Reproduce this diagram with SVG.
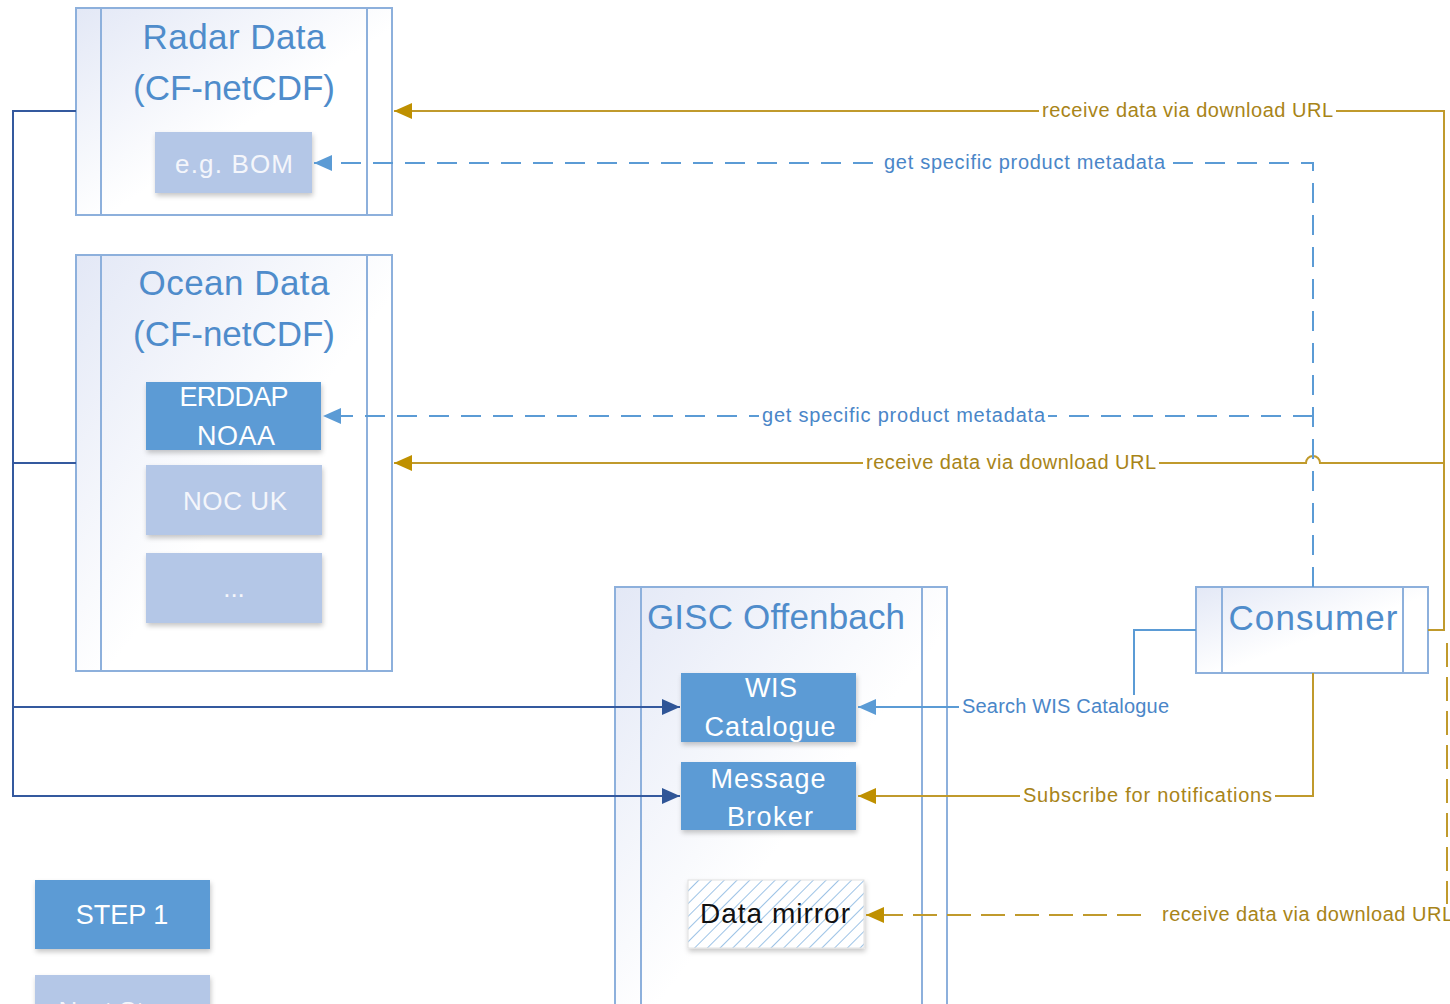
<svg xmlns="http://www.w3.org/2000/svg" width="1450" height="1004" viewBox="0 0 1450 1004">
<defs>
<style>
.cont{stroke:#8DB0DC;stroke-width:2;fill:url(#cg)}
.inl{stroke:#8DB0DC;stroke-width:2;fill:none}
.title{font-family:"Liberation Sans",Arial,sans-serif;font-size:35px;fill:#4F8CCB}
.box{filter:url(#sh)}
.dark{fill:#5B9BD5}
.light{fill:#B4C7E7}
.btxt{font-family:"Liberation Sans",Arial,sans-serif;font-size:27px;fill:#FFFFFF}
.ltxt{font-family:"Liberation Sans",Arial,sans-serif;font-size:26px;fill:#F4F6FB}
.lbl{font-family:"Liberation Sans",Arial,sans-serif;font-size:20px}
.gold{stroke:#C09A2C;stroke-width:2;fill:none}
.blue{stroke:#5B9BD5;stroke-width:2;fill:none}
.navy{stroke:#34599E;stroke-width:2;fill:none}
.gtxt{fill:#A88418}
.btx{fill:#4A86C8}
</style>
<linearGradient id="cg" x1="0" y1="0" x2="1" y2="1">
<stop offset="0" stop-color="#E3E8F6"/>
<stop offset="0.55" stop-color="#FFFFFF"/>
<stop offset="1" stop-color="#FFFFFF"/>
</linearGradient>
<filter id="sh" x="-10%" y="-10%" width="130%" height="140%">
<feDropShadow dx="1" dy="3" stdDeviation="2.5" flood-color="#000" flood-opacity="0.22"/>
</filter>
<pattern id="hatch" patternUnits="userSpaceOnUse" width="9" height="9" patternTransform="rotate(45)">
<rect width="9" height="9" fill="#FFFFFF"/>
<line x1="0" y1="0" x2="0" y2="9" stroke="#9DC3E6" stroke-width="2"/>
</pattern>
<marker id="ag" markerUnits="userSpaceOnUse" markerWidth="20" markerHeight="18" refX="18" refY="8" orient="auto"><path d="M0,0 L18,8 L0,16 z" fill="#BF9000"/></marker>
<marker id="ab" markerUnits="userSpaceOnUse" markerWidth="20" markerHeight="18" refX="18" refY="8" orient="auto"><path d="M0,0 L18,8 L0,16 z" fill="#5B9BD5"/></marker>
<marker id="an" markerUnits="userSpaceOnUse" markerWidth="20" markerHeight="18" refX="18" refY="8" orient="auto"><path d="M0,0 L18,8 L0,16 z" fill="#2F5597"/></marker>
</defs>
<rect width="1450" height="1004" fill="#FFFFFF"/>

<g id="radar">
<rect class="cont" x="76" y="8" width="316" height="207"/>
<path class="inl" d="M101,8 V215 M367,8 V215"/>
<text class="title" x="234" y="49" text-anchor="middle" textLength="183">Radar Data</text>
<text class="title" x="234" y="100" text-anchor="middle" textLength="202">(CF-netCDF)</text>
</g>
<g id="bom">
<rect class="box light" x="155" y="132" width="157" height="61"/>
<text class="ltxt" x="234" y="173" text-anchor="middle" textLength="118">e.g. BOM</text>
</g>

<g id="ocean">
<rect class="cont" x="76" y="255" width="316" height="416"/>
<path class="inl" d="M101,255 V671 M367,255 V671"/>
<text class="title" x="234" y="295" text-anchor="middle" textLength="191">Ocean Data</text>
<text class="title" x="234" y="346" text-anchor="middle" textLength="202">(CF-netCDF)</text>
</g>
<g id="erddap">
<rect class="box dark" x="146" y="382" width="175" height="68"/>
<text class="btxt" x="234" y="406" text-anchor="middle" textLength="109" font-size="26">ERDDAP</text>
<text class="btxt" x="236" y="445" text-anchor="middle" textLength="78">NOAA</text>
</g>
<g id="noc">
<rect class="box light" x="146" y="465" width="176" height="70"/>
<text class="ltxt" x="235" y="510" text-anchor="middle" textLength="104">NOC UK</text>
</g>
<g id="more">
<rect class="box light" x="146" y="553" width="176" height="70"/>
<text class="ltxt" x="234" y="597" text-anchor="middle">...</text>
</g>

<g id="gisc">
<rect class="cont" x="615" y="587" width="332" height="430"/>
<path class="inl" d="M641,587 V1004 M922,587 V1004"/>
<text class="title" x="776" y="629" text-anchor="middle" textLength="258">GISC Offenbach</text>
</g>
<g id="wis">
<rect class="box dark" x="681" y="673" width="175" height="69"/>
<text class="btxt" x="771" y="697" text-anchor="middle" textLength="52">WIS</text>
<text class="btxt" x="770" y="736" text-anchor="middle" textLength="131" font-size="28">Catalogue</text>
</g>
<g id="broker">
<rect class="box dark" x="681" y="762" width="175" height="68"/>
<text class="btxt" x="768" y="788" text-anchor="middle" textLength="115" font-size="28">Message</text>
<text class="btxt" x="770" y="826" text-anchor="middle" textLength="86" font-size="28">Broker</text>
</g>
<g id="mirror">
<rect class="box" x="688" y="880" width="176" height="68" fill="url(#hatch)" stroke="#E0E0E0" stroke-width="1"/>
<text x="775" y="923" text-anchor="middle" textLength="150" font-family="Liberation Sans, Arial, sans-serif" font-size="28" fill="#111111">Data mirror</text>
</g>

<g id="consumer">
<rect class="cont" x="1196" y="587" width="232" height="86"/>
<path class="inl" d="M1222,587 V673 M1403,587 V673"/>
<text class="title" x="1313" y="630" text-anchor="middle" textLength="169">Consumer</text>
</g>

<g id="step1">
<rect class="box dark" x="35" y="880" width="175" height="69"/>
<text class="btxt" x="122" y="924" text-anchor="middle" font-size="24">STEP 1</text>
</g>
<g id="nextsteps">
<rect class="box light" x="35" y="975" width="175" height="69"/>
<text class="ltxt" x="122" y="1020" text-anchor="middle" font-size="24">Next Steps</text>
</g>

<g id="connectors">
<path class="gold" d="M1428,630 H1444 V111 H394" marker-end="url(#ag)"/>
<path class="gold" d="M1444,463 H1320 A7,7 0 0 0 1306,463 H394" marker-end="url(#ag)"/>
<path class="blue" d="M1313,587 V163 H314" stroke-dasharray="20 12" marker-end="url(#ab)"/>
<path class="blue" d="M1313,416 H323" stroke-dasharray="20 12" marker-end="url(#ab)"/>
<path class="blue" d="M1196,630 H1134 V707 H858" marker-end="url(#ab)"/>
<path class="gold" d="M1313,673 V796 H858" marker-end="url(#ag)"/>
<path class="gold" d="M1447,643 V915 H866" stroke-dasharray="24 10" marker-end="url(#ag)"/>
<path class="navy" d="M76,111 H13 V707 H680" marker-end="url(#an)"/>
<path class="navy" d="M76,463 H13 V796 H680" stroke="#4A6AA8" marker-end="url(#an)"/>
<g id="labels">
<rect x="1039" y="100" width="297" height="22" fill="#FFFFFF"/>
<text class="lbl gtxt" x="1042" y="117" textLength="291">receive data via download URL</text>
<rect x="881" y="152" width="287" height="24" fill="#FFFFFF"/>
<text class="lbl btx" x="884" y="169" textLength="281">get specific product metadata</text>
<rect x="759" y="405" width="289" height="24" fill="#FFFFFF"/>
<text class="lbl btx" x="762" y="422" textLength="283">get specific product metadata</text>
<rect x="863" y="452" width="296" height="22" fill="#FFFFFF"/>
<text class="lbl gtxt" x="866" y="469" textLength="290">receive data via download URL</text>
<rect x="959" y="695" width="213" height="24" fill="#FFFFFF"/>
<text class="lbl btx" x="962" y="713" textLength="207">Search WIS Catalogue</text>
<rect x="1020" y="785" width="255" height="22" fill="#FFFFFF"/>
<text class="lbl gtxt" x="1023" y="802" textLength="249">Subscribe for notifications</text>
<rect x="1150" y="904" width="306" height="22" fill="#FFFFFF"/>
<text class="lbl gtxt" x="1162" y="921" textLength="291">receive data via download URL</text>
</g>
</g>
</svg>
